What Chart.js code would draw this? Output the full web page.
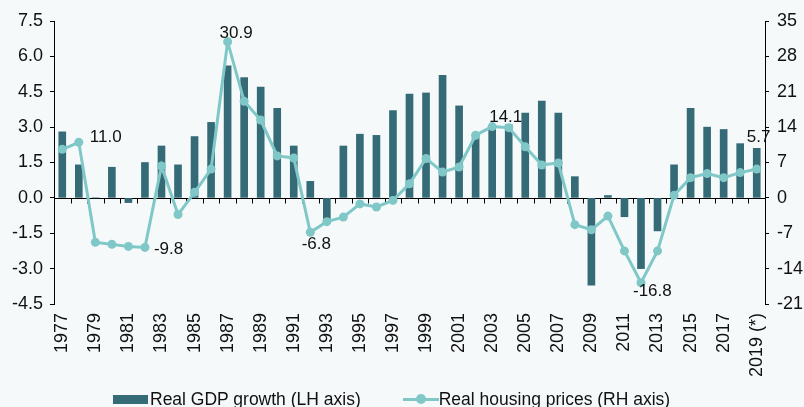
<!DOCTYPE html>
<html>
<head>
<meta charset="utf-8">
<script src="https://cdn.jsdelivr.net/npm/chart.js@4/dist/chart.umd.min.js"></script>
<style>
  html, body { margin: 0; padding: 0; background: #f5f9fa; overflow: hidden; }
  .chart { position: relative; width: 804px; height: 407px; }
  .legend {
    position: absolute; left: 113px; top: 389px;
    display: flex; align-items: center;
    font: 17.5px "Liberation Sans", Arial, sans-serif; line-height: 20px; color: #111;
  }
  .legend__bar { width: 35px; height: 9px; background: #356b77; margin-right: 2px; }
  .legend__line { position: relative; width: 36px; height: 3px; background: #80c8c8; margin-left: 42px; }
  .legend__line::after {
    content: ""; position: absolute; left: 13px; top: -3.5px;
    width: 10px; height: 10px; border-radius: 50%; background: #80c8c8;
  }
</style>
</head>
<body>
<div class="chart">
  <canvas id="gdpChart" width="804" height="407"></canvas>
  <div class="legend">
    <span class="legend__bar"></span><span>Real GDP growth (LH axis)</span>
    <span class="legend__line"></span><span>Real housing prices (RH axis)</span>
  </div>
</div>
<script>
const years = [
  "1977", "1978", "1979", "1980", "1981", "1982", "1983", "1984", "1985", "1986",
  "1987", "1988", "1989", "1990", "1991", "1992", "1993", "1994", "1995", "1996",
  "1997", "1998", "1999", "2000", "2001", "2002", "2003", "2004", "2005", "2006",
  "2007", "2008", "2009", "2010", "2011", "2012", "2013", "2014", "2015", "2016",
  "2017", "2018", "2019 (*)"
];

// real GDP growth, % (left axis)
const gdpGrowth = [
  2.8, 1.4, 0.0, 1.3, -0.2, 1.5, 2.2, 1.4, 2.6, 3.2,
  5.6, 5.1, 4.7, 3.8, 2.2, 0.7, -1.0, 2.2, 2.7, 2.65,
  3.7, 4.4, 4.45, 5.2, 3.9, 2.7, 3.0, 3.1, 3.6, 4.1,
  3.6, 0.9, -3.7, 0.1, -0.8, -3.0, -1.4, 1.4, 3.8, 3.0,
  2.9, 2.3, 2.1
];

// real housing prices, % (right axis)
const housingPrices = [
  9.6, 11.0, -8.8, -9.2, -9.6, -9.8, 6.3, -3.3, 1.1, 5.7,
  30.9, 19.1, 15.4, 8.3, 7.9, -6.8, -4.7, -3.8, -1.2, -1.8,
  -0.5, 2.8, 7.8, 5.1, 6.1, 12.4, 14.1, 13.9, 10.1, 6.5,
  6.9, -5.3, -6.3, -3.6, -10.5, -16.8, -10.5, 0.5, 4.0, 4.8,
  4.0, 5.0, 5.7
];

const leftTicks = [-4.5, -3.0, -1.5, 0.0, 1.5, 3.0, 4.5, 6.0, 7.5];
const rightTicks = [-21, -14, -7, 0, 7, 14, 21, 28, 35];

// points of the housing line that carry a value label
const labelledYears = ["1978", "1982", "1987", "1992", "2003", "2012", "2019 (*)"];

const FONT = { family: "'Liberation Sans', Arial, sans-serif", size: 17 };
const TICK_FONT = { family: "'Liberation Sans', Arial, sans-serif", size: 18 };

// zero line with small ticks between categories
const zeroAxis = {
  id: "zeroAxis",
  beforeDatasetsDraw(chart) {
    const { ctx, chartArea, scales } = chart;
    const y0 = Math.round(scales.y.getPixelForValue(0)) + 0.5;
    ctx.save();
    ctx.strokeStyle = "#000";
    ctx.lineWidth = 1;
    ctx.beginPath();
    ctx.moveTo(chartArea.left, y0);
    ctx.lineTo(chartArea.right, y0);
    for (let i = 1; i < years.length; i++) {
      const x = Math.round(scales.x.getPixelForValue(i - 0.5)) + 0.5;
      ctx.moveTo(x, y0);
      ctx.lineTo(x, y0 + 5);
    }
    ctx.stroke();
    ctx.restore();
  },
};

const offsets = {
  "1978": [11, -5, "left"],
  "1982": [9, 2, "left"],
  "1987": [-8, -8, "left"],
  "1992": [6, 12, "center"],
  "2003": [-3, -9, "left"],
  "2012": [-8, 9, "left"],
  "2019 (*)": [-10, -32, "left"],
};

const valueLabels = {
  id: "valueLabels",
  afterDatasetsDraw(chart) {
    const { ctx } = chart;
    const points = chart.getDatasetMeta(1).data;
    ctx.save();
    ctx.font = `${FONT.size}px ${FONT.family}`;
    ctx.fillStyle = "#111";
    ctx.textBaseline = "middle";
    labelledYears.forEach((yr) => {
      const i = years.indexOf(yr);
      const [dx, dy, align] = offsets[yr];
      ctx.textAlign = align;
      ctx.fillText(housingPrices[i].toFixed(1), points[i].x + dx, points[i].y + dy);
    });
    ctx.restore();
  },
};

new Chart(document.getElementById("gdpChart"), {
  type: "bar",
  data: {
    labels: years,
    datasets: [
      {
        label: "Real GDP growth (LH axis)",
        data: gdpGrowth,
        backgroundColor: "#356b77",
        barThickness: 7,
        yAxisID: "y",
        order: 1,
      },
      {
        type: "line",
        label: "Real housing prices (RH axis)",
        data: housingPrices,
        borderColor: "#80c8c8",
        backgroundColor: "#80c8c8",
        borderWidth: 3,
        pointRadius: 4.5,
        pointBackgroundColor: "#80c8c8",
        pointBorderWidth: 0,
        tension: 0,
        yAxisID: "y1",
        order: 0,
      },
    ],
  },
  options: {
    responsive: false,
    animation: false,
    layout: { padding: { top: 21, bottom: 0, left: 0, right: 0 } },
    plugins: {
      legend: { display: false },
      tooltip: { enabled: false },
    },
    scales: {
      x: {
        grid: { display: false, drawTicks: false },
        border: { display: false },
        ticks: {
          autoSkip: false,
          minRotation: 90,
          maxRotation: 90,
          padding: 9,
          color: "#111",
          font: TICK_FONT,
          callback: function (value, index) {
            return index % 2 === 0 ? years[index] : "";
          },
        },
        afterFit: function (scale) {
          scale.height = 103;
        },
      },
      y: {
        position: "left",
        min: leftTicks[0],
        max: leftTicks[leftTicks.length - 1],
        grid: { drawOnChartArea: false, color: "#000", tickLength: 4 },
        border: { color: "#000" },
        ticks: {
          stepSize: leftTicks[1] - leftTicks[0],
          padding: 7,
          color: "#111",
          font: TICK_FONT,
          callback: (v) => v.toFixed(1),
        },
        afterFit: function (scale) {
          scale.width = 54;
        },
      },
      y1: {
        position: "right",
        min: rightTicks[0],
        max: rightTicks[rightTicks.length - 1],
        grid: { drawOnChartArea: false, color: "#000", tickLength: 4 },
        border: { color: "#000" },
        ticks: {
          stepSize: rightTicks[1] - rightTicks[0],
          padding: 8,
          color: "#111",
          font: TICK_FONT,
        },
        afterFit: function (scale) {
          scale.width = 39;
        },
      },
    },
  },
  plugins: [zeroAxis, valueLabels],
});
</script>
</body>
</html>
